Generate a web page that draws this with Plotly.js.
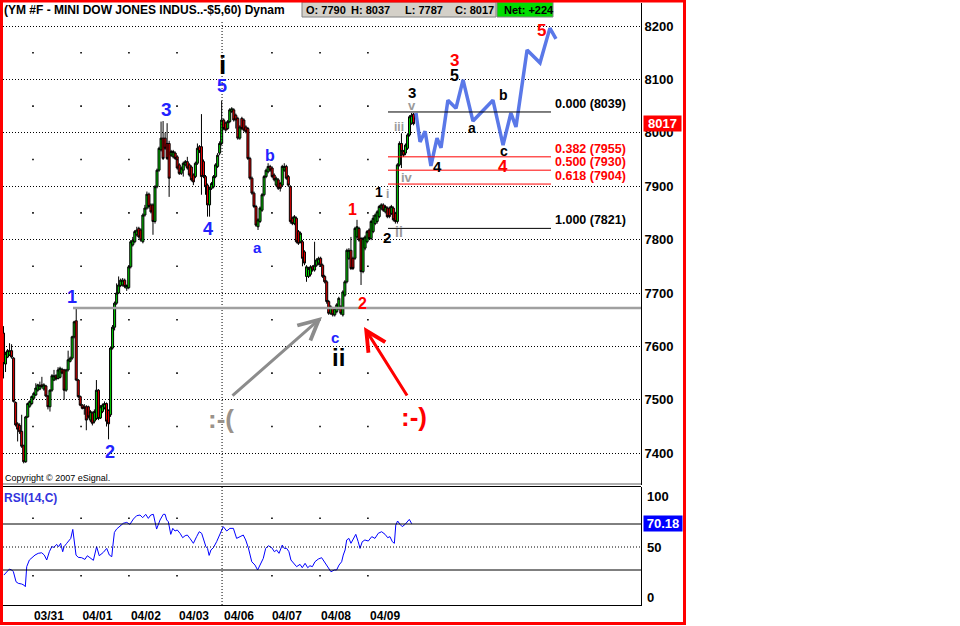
<!DOCTYPE html>
<html><head><meta charset="utf-8">
<script src="https://cdn.plot.ly/plotly-3.0.1.min.js"></script>
<style>html,body{margin:0;padding:0;background:#fff}#c{width:960px;height:626px}</style>
</head><body><div id="c"></div>
<script>
// ---------------- DATA ----------------
const opens=[7625,7567,7580,7584,7592,7578,7495,7455,7452,7441,
7414,7384,7468,7488,7493,7503,7509,7518,7520,7528,
7520,7526,7507,7487,7518,7537,7545,7540,7542,7557,
7556,7518,7556,7572,7578,7618,7648,7537,7506,7490,
7487,7487,7487,7462,7475,7460,7465,7518,7466,7478,
7485,7493,7480,7472,7597,7636,7681,7700,7714,7715,
7724,7709,7710,7749,7790,7796,7809,7821,7818,7796,
7846,7859,7885,7865,7865,7834,7899,7930,7968,7990,
7990,7980,7980,7958,7955,7962,7955,7940,7924,7930,
7940,7946,7940,7936,7921,7918,7943,7974,7974,7946,
7918,7902,7865,7896,7899,7918,7937,7962,7980,8024,
8018,8008,8021,8040,8043,8033,8027,7990,8027,8024,
8011,8008,7952,7915,7887,7862,7824,7834,7855,7884,
7918,7927,7937,7934,7921,7902,7912,7905,7902,7930,
7937,7918,7899,7840,7830,7840,7815,7796,7796,7777,
7731,7731,7735,7749,7743,7752,7756,7765,7752,7731,
7721,7684,7662,7671,7659,7665,7671,7674,7659,7696,
7721,7765,7780,7765,7765,7805,7821,7802,7740,7784,
7796,7818,7802,7815,7830,7834,7843,7859,7865,7852,
7859,7859,7849,7859,7849,7834,7940,7980,7965,7962,
7971,7996,8018,8035];
const highs=[7638,7590,7595,7606,7604,7580,7497,7458,7456,7472,
7416,7470,7495,7499,7508,7515,7531,7530,7534,7543,
7531,7528,7509,7520,7548,7556,7548,7561,7562,7560,
7558,7558,7592,7581,7620,7648,7671,7539,7508,7492,
7492,7490,7489,7481,7478,7482,7537,7520,7490,7493,
7497,7495,7482,7600,7640,7684,7718,7731,7727,7728,
7727,7716,7752,7799,7805,7818,7824,7824,7821,7849,
7865,7890,7888,7868,7868,7902,7933,7974,8021,8022,
8000,8018,7985,7968,7968,7965,7958,7943,7937,7946,
7949,7955,7943,7939,7924,7946,7980,7977,8035,7950,
7921,7905,7899,7908,7921,7943,7962,7984,8060,8027,
8021,8024,8046,8048,8046,8036,8030,8014,8030,8027,
8014,8011,7955,7918,7890,7865,7840,7862,7887,7921,
7933,7943,7940,7937,7924,7918,7915,7908,7940,7943,
7940,7921,7902,7843,7846,7843,7818,7815,7799,7780,
7752,7749,7752,7752,7796,7765,7768,7768,7755,7734,
7724,7687,7677,7674,7674,7681,7693,7677,7705,7724,
7783,7784,7805,7768,7824,7837,7824,7805,7805,7808,
7818,7821,7837,7846,7849,7855,7865,7868,7868,7865,
7862,7862,7865,7862,7852,7943,7984,7999,7968,7980,
7999,8033,8037,8037];
const lows=[7540,7552,7578,7582,7577,7495,7450,7422,7436,7410,
7381,7382,7466,7485,7490,7500,7507,7515,7518,7522,
7517,7505,7482,7478,7515,7535,7536,7538,7540,7548,
7500,7515,7553,7570,7575,7615,7535,7503,7488,7482,
7472,7443,7465,7458,7452,7456,7462,7462,7464,7475,
7482,7450,7426,7468,7594,7630,7678,7698,7711,7712,
7709,7704,7707,7746,7787,7793,7806,7802,7796,7793,
7843,7856,7858,7849,7809,7830,7896,7927,7965,7949,
7968,7949,7880,7955,7952,7949,7931,7921,7921,7918,
7937,7931,7918,7909,7902,7915,7940,7962,7884,7915,
7884,7843,7843,7893,7896,7915,7934,7958,7977,8005,
8002,8005,8018,8037,8021,8008,7987,7987,8005,8002,
7999,7949,7912,7884,7859,7824,7818,7831,7852,7881,
7915,7924,7927,7915,7909,7899,7893,7890,7899,7927,
7912,7899,7830,7827,7827,7793,7790,7793,7750,7752,
7721,7728,7731,7740,7740,7749,7752,7749,7728,7718,
7680,7659,7659,7656,7656,7662,7668,7659,7656,7693,
7718,7762,7743,7743,7762,7802,7796,7715,7737,7780,
7793,7799,7799,7812,7827,7830,7840,7855,7852,7849,
7840,7840,7846,7834,7830,7830,7937,7934,7955,7958,
7968,7993,8015,8014];
const closes=[7568,7587,7592,7592,7580,7497,7453,7445,7440,7413,
7384,7468,7493,7497,7506,7512,7522,7528,7527,7525,
7528,7507,7487,7518,7545,7545,7539,7556,7559,7550,
7518,7556,7575,7578,7618,7646,7537,7506,7490,7484,
7484,7462,7468,7478,7456,7478,7518,7465,7487,7490,
7493,7460,7455,7597,7636,7681,7700,7715,7724,7724,
7712,7714,7749,7796,7799,7815,7818,7805,7799,7846,
7859,7885,7862,7852,7834,7899,7930,7971,7990,7952,
7971,7952,7915,7965,7965,7952,7934,7924,7934,7943,
7946,7934,7921,7912,7908,7943,7971,7965,7918,7918,
7899,7865,7896,7905,7918,7940,7958,7980,8024,8008,
8005,8021,8043,8045,8024,8024,7990,8011,8008,8005,
8002,7952,7915,7887,7862,7827,7837,7859,7884,7918,
7930,7937,7930,7918,7912,7915,7896,7896,7937,7937,
7915,7902,7834,7830,7843,7796,7793,7812,7765,7756,
7749,7746,7749,7743,7752,7762,7765,7752,7731,7721,
7684,7662,7674,7659,7671,7678,7690,7662,7702,7721,
7780,7780,7746,7746,7821,7824,7799,7740,7802,7805,
7815,7802,7834,7840,7846,7852,7862,7865,7855,7862,
7843,7843,7862,7837,7834,7940,7980,7965,7958,7977,
7996,8030,8033,8017];

const rsiPos=[0.2,1.6,2.9,4.1,4.9,6.2,7.3,9.0,10.1,10.8,
11.5,12.8,14.0,15.6,17.2,18.9,20.2,21.4,22.7,23.9,
25.0,26.3,27.3,28.3,29.3,30.0,31.3,32.6,33.3,34.3,
34.9,35.9,37.0,38.7,40.3,41.5,42.8,44.5,46.1,47.4,
49.4,51.1,52.4,53.6,54.1,54.9,56.0,57.7,59.3,61.0,
62.6,64.3,65.9,67.6,68.9,70.4,71.7,72.9,74.2,75.8,
77.5,79.1,80.0,80.8,81.6,82.8,83.8,84.9,86.0,87.4,
88.7,89.9,91.0,92.3,94.0,95.6,96.9,98.1,99.3,100.2,
101.0,101.8,102.7,103.9,105.5,107.2,108.8,110.5,112.1,113.8,
115.4,117.1,118.7,119.9,121.2,122.9,124.5,125.8,127.0,128.6,
129.8,131.1,132.8,134.1,135.2,136.4,138.0,139.0,140.2,141.3,
142.3,143.5,145.1,146.8,147.9,149.3,150.6,151.7,152.9,154.2,
155.8,157.5,159.2,160.8,162.1,163.8,164.9,166.1,167.4,168.2,
169.1,169.9,171.0,172.0,173.2,174.4,175.6,176.5,177.6,178.9,
180.6,182.3,183.9,185.5,187.2,188.9,190.2,191.3,192.5,193.5,
194.2,195.1,196.3,197.4,198.8,199.9,200.9,202.1];
const rsiVals=[25.6,28.5,30.8,30.0,28.5,19.8,18.4,17.8,16.9,15.5,
32.9,38.7,40.7,43,44.5,45,43,38.7,45.9,50.3,
49.7,52.3,50.3,53.2,45.9,50.3,53.2,56.1,57.5,65.3,
57.5,43,41,40.7,39.2,42.4,40.7,38.4,50.3,42.4,
45.3,48.8,43,41.6,50.3,62.7,65.6,68.5,70.6,71.4,
69.7,74.3,77.2,77.8,75.5,78.4,74.9,77.8,78.4,65.6,
73.5,78.4,78.4,73.5,72,61,66.2,63.9,64.8,61.9,
58.1,59.8,60.4,57.5,53.2,59,63.3,61.9,54.6,50.3,
48.8,42.7,47.4,49.4,54.6,61.9,67.7,63.9,66.2,66.2,
57.5,59,60.4,56.1,49.4,37.2,34.3,30,34.3,40.1,
48.8,51.1,49.4,45.9,47.4,44.5,51.7,48.8,48.8,45.9,
38.7,35.8,32.9,34.9,32,35.8,32,33.7,32.9,37.2,
39.5,40.7,35.8,31.4,28.5,30,30,34.3,37.2,43,
47.4,56.1,57.5,53.2,57.5,61,54.6,48.8,54.6,56.1,
55.2,59,57.5,61.9,63.3,61,58.1,59,54.6,53.2,
69.1,72.6,69.7,67.7,69.7,72,74.0,70.18];

// hand-drawn projection path (bar position, price)
const projPos=[204.2,206.2,208.7,211.6,214.6,216.6,220.0,224.0,227.5,232.4,242.3,247.3,251.2,253.7,259.2,265.6,270.5,273.5];
const projVals=[8037,7983,8003,7938,7990,7972,8061,8046,8099,8022,8061,7977,8037,8011,8155,8131,8196,8176];

const dateLabels=['03/31','04/01','04/02','04/03','04/06','04/07','04/08','04/09'];
const datePos=[22.5,46.5,70.5,94.3,116.6,140.3,164.6,188.9];
const priceTicks=[7400,7500,7600,7700,7800,7900,8000,8100,8200];
const fibLevels=[8039,7955,7930,7904,7821];
const fibRatios=['0.000','0.382','0.500','0.618','1.000'];
const fibColors=['#000000','#ff0000','#ff0000','#ff0000','#000000'];
const wave1High=7672;
const dayBounds=[14.6,38.4,62.1,85.9,132.9,156.7,180.4];
const weekBreak=108.2;
const halfLevels=[7450,7550,7650,7750,7850,7950,8050,8150];
const rsiHalf=[25,75];
const rsiTicks=[100,50,0];
const lastRSI=70.18;
const header={o:7790,h:8037,l:7787,c:8017,net:'+224'};

// ---------------- LAYOUT HELPERS ----------------
const F='Arial, "Liberation Sans", sans-serif';
const L=3,R=641,T=3,B=605;
const px=p=>(p-L)/(R-L);
const py=p=>(B-p)/(B-T);
const barPx=2.02, bar0=3.5;
const xr=[(L-bar0)/barPx,(R-bar0)/barPx];
const ppu=0.534;
const yr=[8200-(485-26)/ppu, 8200-(T-26)/ppu];
const y2r=[50-(B-547)/1.15, 50+(547-487)/1.15];
const idx=opens.map((_,i)=>i);
const BLUE='#2222ff', RED='#ff0000', GRAY='#9a9a9a';

const traces=[];
// sparse grid dots
const gx=[],gy=[],gx2=[],gy2=[];
dayBounds.forEach(b=>{halfLevels.forEach(v=>{gx.push(b);gy.push(v);});rsiHalf.forEach(v=>{gx2.push(b);gy2.push(v);});});
traces.push({type:'scatter',mode:'markers',x:gx,y:gy,xaxis:'x',yaxis:'y',marker:{size:1.6,symbol:'square',color:'#000'},hoverinfo:'skip'});
traces.push({type:'scatter',mode:'markers',x:gx2,y:gy2,xaxis:'x',yaxis:'y2',marker:{size:1.6,symbol:'square',color:'#000'},hoverinfo:'skip'});

traces.push({type:'candlestick',x:idx,open:opens,high:highs,low:lows,close:closes,xaxis:'x',yaxis:'y',
  increasing:{fillcolor:'#00cc00',line:{color:'#000',width:1}},
  decreasing:{fillcolor:'#e00000',line:{color:'#000',width:1}},
  whiskerwidth:0,hoverinfo:'skip'});
traces.push({type:'scatter',mode:'lines',x:projPos,y:projVals,xaxis:'x',yaxis:'y',line:{color:'#5a78e8',width:3.5},hoverinfo:'skip'});
traces.push({type:'scatter',mode:'lines',x:rsiPos,y:rsiVals,xaxis:'x',yaxis:'y2',line:{color:'#0000ff',width:1},hoverinfo:'skip'});

const shapes=[];
shapes.push({type:'line',xref:'x',yref:'paper',x0:weekBreak,x1:weekBreak,y0:0,y1:py(20),line:{color:'#000',width:1,dash:'1px,2px'}});
shapes.push({type:'line',xref:'paper',yref:'y2',x0:0,x1:1,y0:70,y1:70,line:{color:'#000',width:1}});
shapes.push({type:'line',xref:'paper',yref:'y2',x0:0,x1:1,y0:30,y1:30,line:{color:'#000',width:1}});
shapes.push({type:'line',xref:'paper',yref:'y2',x0:0,x1:1,y0:50,y1:50,line:{color:'#000',width:1,dash:'1px,2px'}});
shapes.push({type:'line',xref:'x',yref:'y',x0:(73-bar0)/barPx,x1:xr[1],y0:wave1High,y1:wave1High,line:{color:'#a0a0a0',width:2.5}});
fibLevels.forEach((v,k)=>shapes.push({type:'line',xref:'x',yref:'y',x0:(388-bar0)/barPx,x1:(551-bar0)/barPx,y0:v,y1:v,line:{color:fibColors[k],width:1}}));
shapes.push({type:'line',xref:'paper',yref:'paper',x0:0,x1:1,y0:py(484),y1:py(484),line:{color:'#b0b0b0',width:2}});
shapes.push({type:'line',xref:'paper',yref:'paper',x0:0,x1:1,y0:py(486.5),y1:py(486.5),line:{color:'#000',width:1}});
shapes.push({type:'rect',xref:'paper',yref:'paper',x0:px(302),x1:px(496),y0:py(17),y1:py(2),fillcolor:'#d4d0c8',line:{color:'#808080',width:1}});
shapes.push({type:'rect',xref:'paper',yref:'paper',x0:px(497),x1:px(553),y0:py(17),y1:py(2),fillcolor:'#00dd00',line:{color:'#808080',width:1}});
shapes.push({type:'rect',xref:'paper',yref:'paper',x0:px(1.5),x1:px(684.5),y0:py(623.5),y1:py(1),line:{color:'#ff0000',width:3},layer:'above'});

const ann=[];
const txt=(t,x,y,c,s,extra)=>Object.assign({text:'<b>'+t+'</b>',xref:'paper',yref:'paper',x:px(x),y:py(y),xanchor:'center',yanchor:'middle',showarrow:false,font:{family:F,size:s,color:c}},extra||{});
ann.push(txt('(YM #F - MINI DOW JONES INDUS..-$5,60) Dynam',2,10,'#000',12,{xanchor:'left'}));
ann.push(txt('O: '+header.o,304,10,'#000',11,{xanchor:'left'}));
ann.push(txt('H: '+header.h,349,10,'#000',11,{xanchor:'left'}));
ann.push(txt('L: '+header.l,403,10,'#000',11,{xanchor:'left'}));
ann.push(txt('C: '+header.c,453,10,'#000',11,{xanchor:'left'}));
ann.push(txt('Net: '+header.net,502,10,'#000',11,{xanchor:'left'}));

const waveLabels=[
 ['i',222,65,'#000',26],['5',222,86,BLUE,18],['3',166,109,BLUE,19],['4',208,229,BLUE,18],
 ['b',270,155,BLUE,16],['a',257,247,BLUE,15],['1',72,297,BLUE,18],['2',110,452,BLUE,18],
 ['c',335,337,BLUE,15],['ii',338,357,'#000',24],['1',352.5,209,RED,16],['2',362,303,RED,16],
 ['1',379,192,'#000',14],['i',387,194,GRAY,12],['2',387,237,'#000',15],['ii',399,232,GRAY,14],
 ['iii',399,127,GRAY,12],['iv',407,177,GRAY,13],['v',412,106,GRAY,13],['3',412,93,'#000',15],
 ['4',438,166,'#000',15],['3',454,60,RED,17],['5',454,75,'#000',16],['a',472,128,'#000',14],
 ['b',503,95,'#000',14],['c',504,151,'#000',14],['4',503,166,RED,17],['5',541,31,RED,17],
 [':-(',221,419,'#9a928a',26],[':-)',414,417,RED,26]
];
waveLabels.forEach(w=>ann.push(txt(w[0],w[1],w[2],w[3],w[4])));

fibLevels.forEach((v,k)=>ann.push({text:'<b>'+fibRatios[k]+' ('+v+')</b>',xref:'paper',yref:'y',x:px(553),y:v,xanchor:'left',yanchor:'bottom',yshift:-1,showarrow:false,font:{family:F,size:12.5,color:fibColors[k]}}));

ann.push({text:'',xref:'paper',yref:'paper',x:px(322),y:py(317),ax:231-322,ay:397-317,showarrow:true,arrowhead:5,arrowsize:1.3,arrowwidth:3,arrowcolor:'#8c8c8c'});
ann.push({text:'',xref:'paper',yref:'paper',x:px(364),y:py(327),ax:408-364,ay:397-327,showarrow:true,arrowhead:5,arrowsize:1.3,arrowwidth:3,arrowcolor:'#ff0000'});

ann.push(txt('',3,478,'#000',9,{xanchor:'left',text:'Copyright © 2007 eSignal.'}));
ann.push(txt('RSI(14,C)',2,498,'#3333dd',12,{xanchor:'left'}));
const rsiLabelY=[497,547,597];
rsiTicks.forEach((v,k)=>ann.push(txt(String(v),645,rsiLabelY[k],'#000',13,{xanchor:'left'})));
ann.push({text:'<b>'+closes[closes.length-1]+'</b>',xref:'paper',yref:'y',x:px(643),y:closes[closes.length-1],xanchor:'left',yanchor:'middle',showarrow:false,bgcolor:'#ff0000',borderpad:0,width:37,font:{family:F,size:13,color:'#fff'}});
ann.push({text:'<b>'+lastRSI.toFixed(2)+'</b>',xref:'paper',yref:'y2',x:px(643),y:lastRSI,xanchor:'left',yanchor:'middle',showarrow:false,bgcolor:'#0000ff',borderpad:0,width:38,font:{family:F,size:13,color:'#fff'}});

const layout={
 width:960,height:626,margin:{l:L,r:960-R,t:T,b:626-B,pad:0},
 paper_bgcolor:'#fff',plot_bgcolor:'#fff',showlegend:false,
 boxgap:0,boxgroupgap:0,
 font:{family:F,size:12,color:'#000'},
 xaxis:{range:xr,anchor:'y2',showgrid:false,zeroline:false,showline:true,linecolor:'#000',linewidth:1,
   tickvals:datePos,ticktext:dateLabels.map(d=>'<b>'+d+'</b>'),ticks:'',tickfont:{size:12,family:F},
   rangeslider:{visible:false},fixedrange:true},
 yaxis:{domain:[py(485),1],range:yr,side:'right',anchor:'x',tickvals:priceTicks,ticktext:priceTicks.map(v=>'<b>'+v+'</b>'),
   showgrid:true,gridcolor:'#000',griddash:'1px,2px',gridwidth:1,showline:true,linecolor:'#000',zeroline:false,ticks:'',
   tickfont:{size:13,family:F},fixedrange:true},
 yaxis2:{domain:[0,py(487)],range:y2r,side:'right',anchor:'x',showticklabels:false,showgrid:false,showline:true,linecolor:'#000',zeroline:false,fixedrange:true},
 shapes:shapes,annotations:ann
};
Plotly.newPlot('c',traces,layout,{staticPlot:true,displayModeBar:false});
</script>
</body></html>
